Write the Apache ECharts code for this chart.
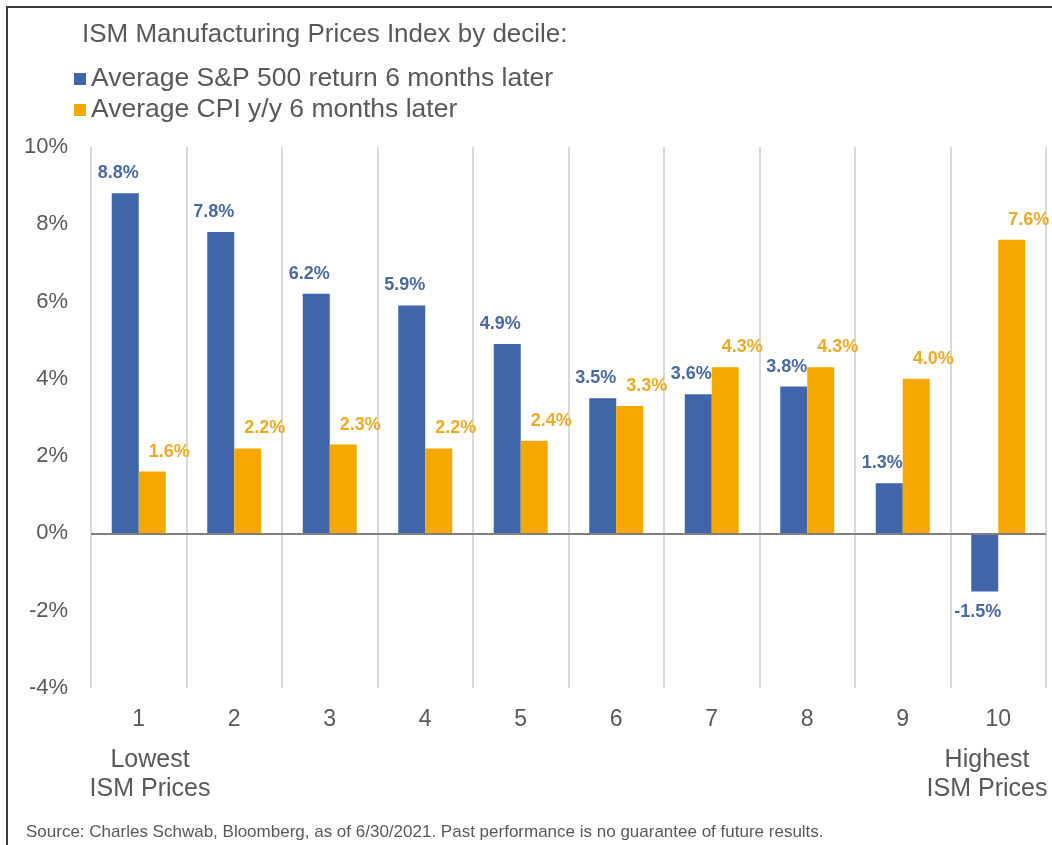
<!DOCTYPE html>
<html>
<head>
<meta charset="utf-8">
<script src="https://cdn.jsdelivr.net/npm/echarts@6/dist/echarts.min.js"></script>
<style>
  html, body { margin: 0; padding: 0; background: #fff; }
  #chart { width: 1052px; height: 845px; }
  #frame { position: absolute; left: 6px; top: 6px; width: 1100px; height: 900px;
           border-top: 2px solid #3c3c3c; border-left: 2px solid #3c3c3c; pointer-events: none; }
</style>
</head>
<body>
<div id="chart"></div>
<div id="frame"></div>
<script>
const categories = ['1', '2', '3', '4', '5', '6', '7', '8', '9', '10'];
const spReturn = [8.8, 7.8, 6.2, 5.9, 4.9, 3.5, 3.6, 3.8, 1.3, -1.5];
const cpiYoY = [1.6, 2.2, 2.3, 2.2, 2.4, 3.3, 4.3, 4.3, 4.0, 7.6];
const yTicks = { min: -4, max: 10, interval: 2 };
const titleText = 'ISM Manufacturing Prices Index by decile:';
const seriesNames = ['Average S&P 500 return 6 months later', 'Average CPI y/y 6 months later'];
const lowLabel = 'Lowest\nISM Prices';
const highLabel = 'Highest\nISM Prices';
const sourceText = 'Source: Charles Schwab, Bloomberg, as of 6/30/2021. Past performance is no guarantee of future results.';

const FONT = '"Liberation Sans", Arial, sans-serif';
const GREY = '#595959';
const BLUE = '#4065a9';
const ORANGE = '#f5a800';

function withLabels(values) {
  return values.map(v => v < 0
    ? { value: v, label: { position: 'bottom', distance: 12 } }
    : { value: v });
}

const chart = echarts.init(document.getElementById('chart'), null, { renderer: 'canvas' });
chart.setOption({
  backgroundColor: '#ffffff',
  animation: false,
  textStyle: { fontFamily: FONT },
  title: {
    text: titleText,
    left: 77, top: 17,
    textStyle: { fontFamily: FONT, fontSize: 26, fontWeight: 'normal', color: GREY }
  },
  legend: {
    orient: 'vertical',
    left: 69, top: 60,
    icon: 'rect',
    itemWidth: 12, itemHeight: 12, itemGap: 3,
    textStyle: { fontFamily: FONT, fontSize: 26.5, color: GREY, lineHeight: 28 },
    data: seriesNames
  },
  grid: { left: 91, right: 6, top: 147, bottom: 157, containLabel: false },
  xAxis: {
    type: 'category',
    data: categories,
    axisLine: { show: false, onZero: false },
    axisTick: { show: false },
    axisLabel: { fontFamily: FONT, fontSize: 23, color: GREY, margin: 20 },
    splitLine: { show: true, lineStyle: { color: '#d9d9d9', width: 2 } }
  },
  yAxis: {
    type: 'value',
    min: yTicks.min, max: yTicks.max, interval: yTicks.interval,
    axisLine: { show: false },
    axisTick: { show: false },
    splitLine: { show: false },
    axisLabel: { fontFamily: FONT, fontSize: 22, color: GREY, margin: 23, formatter: '{value}%' }
  },
  series: [
    {
      name: seriesNames[0],
      type: 'bar',
      barWidth: 27,
      barGap: '0%',
      itemStyle: { color: BLUE },
      data: withLabels(spReturn),
      label: {
        show: true, position: 'top', distance: 11, offset: [-7, 0],
        fontFamily: FONT, fontSize: 18, fontWeight: 'bold', color: '#4a6aa5',
        formatter: p => p.value.toFixed(1) + '%'
      },
      markLine: {
        silent: true, symbol: 'none',
        label: { show: false },
        lineStyle: { color: '#808080', width: 2, type: 'solid' },
        data: [{ yAxis: 0 }]
      },
      z: 3
    },
    {
      name: seriesNames[1],
      type: 'bar',
      barWidth: 27,
      barGap: '0%',
      itemStyle: { color: ORANGE },
      data: withLabels(cpiYoY),
      label: {
        show: true, position: 'top', distance: 11, offset: [17, 0],
        fontFamily: FONT, fontSize: 18, fontWeight: 'bold', color: '#f0aa22',
        formatter: p => p.value.toFixed(1) + '%'
      },
      z: 3
    }
  ],
  graphic: [
    { type: 'text', x: 150, y: 746,
      style: { text: lowLabel, textAlign: 'center', font: '25px ' + FONT, fill: GREY, lineHeight: 29 } },
    { type: 'text', x: 987, y: 746,
      style: { text: highLabel, textAlign: 'center', font: '25px ' + FONT, fill: GREY, lineHeight: 29 } },
    { type: 'text', x: 26, y: 824,
      style: { text: sourceText, font: '17px ' + FONT, fill: GREY } }
  ]
});
</script>
</body>
</html>
